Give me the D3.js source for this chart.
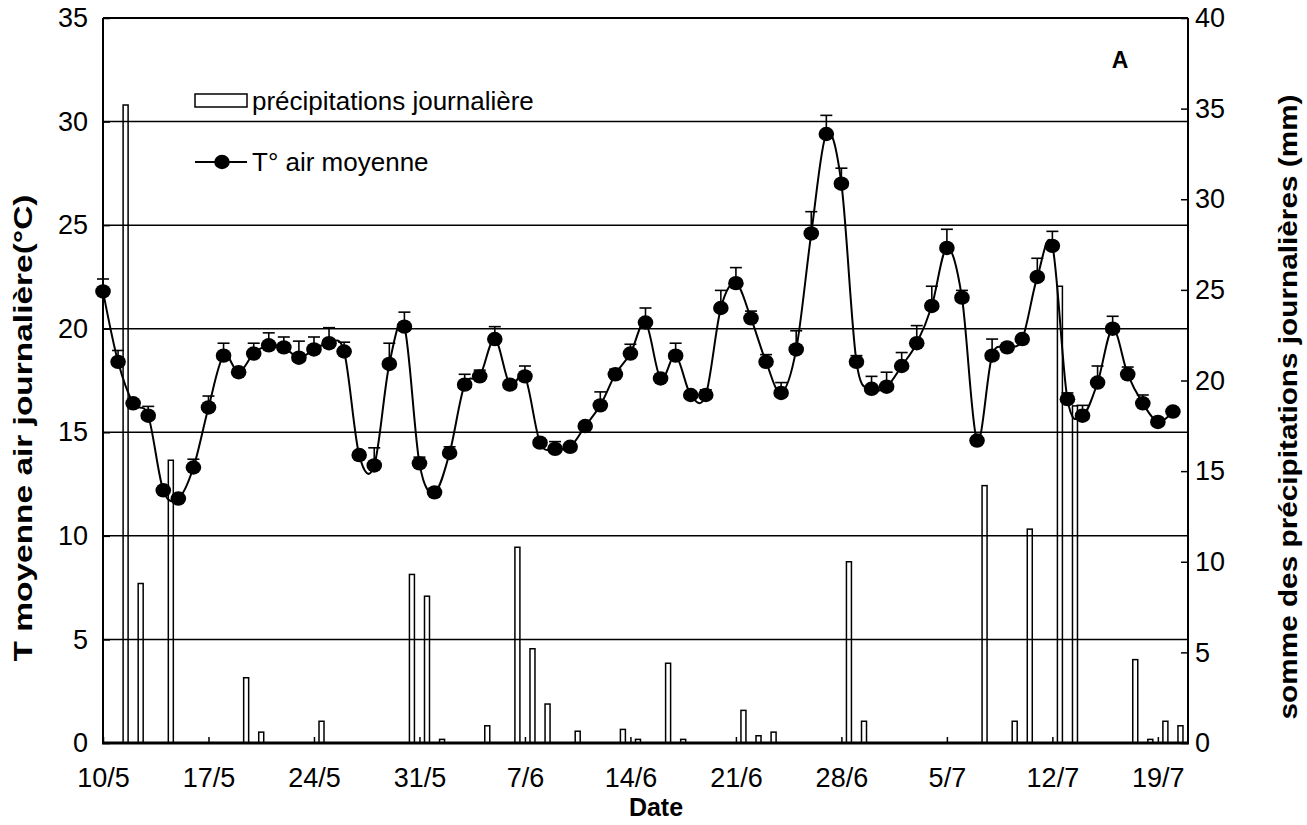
<!DOCTYPE html>
<html>
<head>
<meta charset="utf-8">
<script src="https://cdn.jsdelivr.net/npm/d3@7"></script>
<style>
  html, body { margin: 0; padding: 0; background: #fff; }
  svg { display: block; font-family: "Liberation Sans", Arial, sans-serif; }
</style>
</head>
<body>
<svg id="chart" width="1307" height="825"></svg>
<script>
// Daily series, 10 May -> 20 July (72 days)
const firstDay = Date.UTC(2000, 4, 10);
const lastDay = Date.UTC(2000, 6, 21);

// Mean daily air temperature (°C)
const tempMean = [
  21.8, 18.4, 16.4, 15.8, 12.2, 11.8, 13.3, 16.2, 18.7, 17.9,
  18.8, 19.2, 19.1, 18.6, 19.0, 19.3, 18.9, 13.9, 13.4, 18.3,
  20.1, 13.5, 12.1, 14.0, 17.3, 17.7, 19.5, 17.3, 17.7, 14.5,
  14.2, 14.3, 15.3, 16.3, 17.8, 18.8, 20.3, 17.6, 18.7, 16.8,
  16.8, 21.0, 22.2, 20.5, 18.4, 16.9, 19.0, 24.6, 29.4, 27.0,
  18.4, 17.1, 17.2, 18.2, 19.3, 21.1, 23.9, 21.5, 14.6, 18.7,
  19.1, 19.5, 22.5, 24.0, 16.6, 15.8, 17.4, 20.0, 17.8, 16.4,
  15.5, 16.0
];

// Upper error (°C)
const tempErr = [
  0.6, 0.55, 0.15, 0.45, 0.15, 0.15, 0.4, 0.55, 0.6, 0.15,
  0.5, 0.6, 0.5, 0.8, 0.6, 0.75, 0.45, 0.15, 0.85, 1.0,
  0.7, 0.3, 0.15, 0.3, 0.5, 0.3, 0.6, 0.15, 0.5, 0.15,
  0.35, 0.15, 0.15, 0.65, 0.25, 0.45, 0.7, 0.15, 0.6, 0.15,
  0.25, 0.85, 0.75, 0.35, 0.35, 0.5, 0.9, 1.05, 0.9, 0.75,
  0.3, 0.6, 0.7, 0.65, 0.85, 0.95, 0.9, 0.35, 0.15, 0.8,
  0.15, 0.15, 0.9, 0.7, 0.3, 0.5, 0.8, 0.6, 0.35, 0.4,
  0.15, 0.15
];

// Daily precipitation (mm)
const rain = [
  0, 35.2, 8.8, 0, 15.6, 0, 0, 0, 0, 3.6,
  0.6, 0, 0, 0, 1.2, 0, 0, 0, 0, 0,
  9.3, 8.1, 0.2, 0, 0, 0.95, 0, 10.8, 5.2, 2.15,
  0, 0.65, 0, 0, 0.75, 0.2, 0, 4.4, 0.2, 0,
  0, 0, 1.8, 0.4, 0.6, 0, 0, 0, 0, 10.0,
  1.2, 0, 0, 0, 0, 0, 0, 0, 14.2, 0,
  1.2, 11.8, 0, 25.2, 18.6, 0, 0, 0, 4.6, 0.2,
  1.2, 0.95
];

const dateTickLabels = ["10/5", "17/5", "24/5", "31/5", "7/6", "14/6", "21/6", "28/6", "5/7", "12/7", "19/7"];
const tempTicks = [0, 5, 10, 15, 20, 25, 30, 35];
const rainTicks = [0, 5, 10, 15, 20, 25, 30, 35, 40];
const gridValues = [5, 10, 15, 20, 25, 30];

const days = d3.utcDay.range(new Date(firstDay), new Date(lastDay));
const weekTicks = dateTickLabels.map((_, i) => d3.utcDay.offset(new Date(firstDay), 7 * i));

const plotL = 103, plotR = 1188, plotT = 18, plotB = 743;
const fontFamily = '"Liberation Sans", Arial, sans-serif';

const svg = d3.select("#chart");

const x = d3.scaleUtc().domain([new Date(firstDay), new Date(lastDay)]).range([plotL, plotR]);
const yT = d3.scaleLinear().domain([0, 35]).range([plotB, plotT]);
const yR = d3.scaleLinear().domain([0, 40]).range([plotB, plotT]);

// horizontal grid
svg.append("g").selectAll("line").data(gridValues).join("line")
  .attr("x1", plotL).attr("x2", plotR)
  .attr("y1", d => yT(d)).attr("y2", d => yT(d))
  .attr("stroke", "#000").attr("stroke-width", 1.5);

// precipitation bars (centred in each day slot)
const barW = 5;
const rainData = days.map((d, i) => ({ d, v: rain[i] })).filter(o => o.v > 0);
svg.append("g").selectAll("rect").data(rainData).join("rect")
  .attr("x", o => x(d3.utcHour.offset(o.d, 12)) - barW / 2)
  .attr("y", o => yR(o.v))
  .attr("width", barW)
  .attr("height", o => yR(0) - yR(o.v))
  .attr("fill", "none")
  .attr("stroke", "#000")
  .attr("stroke-width", 1.5);

// temperature curve
const pts = days.map((d, i) => ({ d, v: tempMean[i], e: tempErr[i] }));
const line = d3.line().x(p => x(p.d)).y(p => yT(p.v)).curve(d3.curveCardinal.tension(0));
svg.append("path").datum(pts)
  .attr("d", line).attr("fill", "none").attr("stroke", "#000").attr("stroke-width", 2);

// error bars (upper)
const eb = svg.append("g").attr("stroke", "#000").attr("stroke-width", 1.6);
eb.selectAll("line.stem").data(pts).join("line").attr("class", "stem")
  .attr("x1", p => x(p.d)).attr("x2", p => x(p.d))
  .attr("y1", p => yT(p.v)).attr("y2", p => yT(p.v + p.e));
eb.selectAll("line.cap").data(pts).join("line").attr("class", "cap")
  .attr("x1", p => x(p.d) - 6).attr("x2", p => x(p.d) + 6)
  .attr("y1", p => yT(p.v + p.e)).attr("y2", p => yT(p.v + p.e));

// markers
svg.append("g").selectAll("ellipse").data(pts).join("ellipse")
  .attr("cx", p => x(p.d)).attr("cy", p => yT(p.v))
  .attr("rx", 7.8).attr("ry", 7.2).attr("fill", "#000");

// axes
const tickFont = "27px";
const gL = svg.append("g").attr("transform", `translate(${plotL},0)`)
  .call(d3.axisLeft(yT).tickValues(tempTicks).tickSize(-7).tickPadding(15));
const gR = svg.append("g").attr("transform", `translate(${plotR},0)`)
  .call(d3.axisRight(yR).tickValues(rainTicks).tickSize(-7).tickPadding(7));
const gB = svg.append("g").attr("transform", `translate(0,${plotB})`)
  .call(d3.axisBottom(x).tickValues(weekTicks).tickSize(-6).tickPadding(25)
    .tickFormat((d, i) => dateTickLabels[i]));
[gL, gR, gB].forEach(g => {
  g.select(".domain").remove();
  g.selectAll(".tick line").attr("stroke", "#000").attr("stroke-width", 1.5);
  g.selectAll(".tick text").attr("fill", "#000").style("font-size", tickFont)
    .style("font-family", fontFamily);
});

// frame
svg.append("line").attr("x1", plotL).attr("x2", plotR).attr("y1", plotT).attr("y2", plotT)
  .attr("stroke", "#000").attr("stroke-width", 2);
svg.append("line").attr("x1", plotL).attr("x2", plotL).attr("y1", plotT).attr("y2", plotB)
  .attr("stroke", "#000").attr("stroke-width", 2);
svg.append("line").attr("x1", plotR).attr("x2", plotR).attr("y1", plotT).attr("y2", plotB)
  .attr("stroke", "#000").attr("stroke-width", 2);
svg.append("line").attr("x1", plotL - 1).attr("x2", plotR + 1).attr("y1", plotB).attr("y2", plotB)
  .attr("stroke", "#000").attr("stroke-width", 3);

// axis titles
svg.append("text").attr("transform", "translate(32,428) rotate(-90)")
  .attr("text-anchor", "middle").attr("font-weight", "bold").attr("font-size", 26)
  .attr("textLength", 467).attr("lengthAdjust", "spacingAndGlyphs")
  .text("T moyenne air journalière(°C)");
svg.append("text").attr("transform", "translate(1297,407) rotate(-90)")
  .attr("text-anchor", "middle").attr("font-weight", "bold").attr("font-size", 26)
  .attr("textLength", 625).attr("lengthAdjust", "spacingAndGlyphs")
  .text("somme des précipitations journalières (mm)");
svg.append("text").attr("x", 656).attr("y", 816)
  .attr("text-anchor", "middle").attr("font-weight", "bold").attr("font-size", 25)
  .text("Date");

// panel letter
svg.append("text").attr("x", 1120).attr("y", 68)
  .attr("text-anchor", "middle").attr("font-weight", "bold").attr("font-size", 23)
  .text("A");

// legend
const lg = svg.append("g");
lg.append("rect").attr("x", 195).attr("y", 94).attr("width", 52).attr("height", 13)
  .attr("fill", "#fff").attr("stroke", "#000").attr("stroke-width", 1.5);
lg.append("text").attr("x", 252).attr("y", 110).attr("font-size", 26)
  .text("précipitations journalière");
lg.append("line").attr("x1", 195).attr("x2", 247).attr("y1", 162).attr("y2", 162)
  .attr("stroke", "#000").attr("stroke-width", 2);
lg.append("ellipse").attr("cx", 222).attr("cy", 162).attr("rx", 7.8).attr("ry", 7.2).attr("fill", "#000");
lg.append("text").attr("x", 252).attr("y", 171).attr("font-size", 26)
  .text("T° air moyenne");
</script>
</body>
</html>
